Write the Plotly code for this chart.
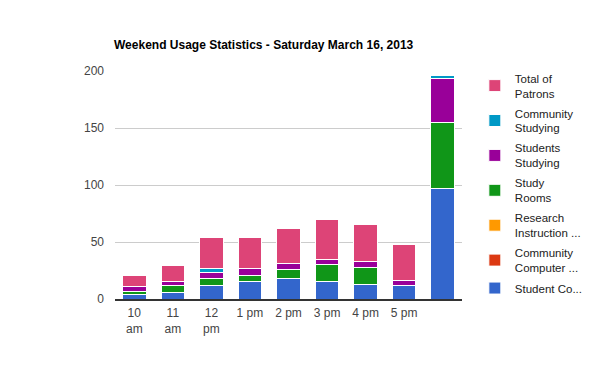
import plotly.graph_objects as go

categories = ["10<br>am", "11<br>am", "12<br>pm", "1 pm", "2 pm", "3 pm", "4 pm", "5 pm", " "]
student_computers = [4, 6, 12, 15, 18, 15, 13, 12, 97]
community_computers = [0, 0, 0, 0, 0, 0, 0, 0, 0]
research_instruction = [0, 0, 0, 0, 0, 0, 0, 0, 0]
study_rooms = [3, 6, 6, 6, 8, 15, 15, 0, 58]
students_studying = [4, 3, 5, 6, 5, 5, 5, 4, 38]
community_studying = [0, 0, 4, 0, 0, 0, 0, 0, 3]
total_patrons = [10, 14, 27, 27, 31, 35, 32, 32, 0]

series = [
    ("Student Co...", student_computers, "#3366CC"),
    ("Community<br>Computer ...", community_computers, "#DC3912"),
    ("Research<br>Instruction ...", research_instruction, "#FF9900"),
    ("Study<br>Rooms", study_rooms, "#109618"),
    ("Students<br>Studying", students_studying, "#990099"),
    ("Community<br>Studying", community_studying, "#0099C6"),
    ("Total of<br>Patrons", total_patrons, "#DD4477"),
]

fig = go.Figure()
for i, (name, vals, color) in enumerate(series):
    fig.add_trace(go.Bar(
        x=categories, y=vals, name=name,
        legendgroup="g%d" % i, legendrank=1000 - i,
        marker=dict(color=color, line=dict(color="white", width=1)),
        hoverinfo="skip",
    ))

fig.update_layout(
    width=600, height=371,
    barmode="stack", bargap=0.39,
    margin=dict(l=115, r=115, t=71, b=72),
    paper_bgcolor="white", plot_bgcolor="white",
    font=dict(family="Liberation Sans, Arial, sans-serif", size=12, color="#444"),
    title=dict(
        text="<b>Weekend Usage Statistics - Saturday March 16, 2013</b>",
        x=114 / 600, xanchor="left", xref="container",
        y=1 - 45 / 371, yanchor="middle", yref="container",
        font=dict(size=12, color="#000"),
    ),
    legend=dict(
        x=1.037, xanchor="left", y=1.03, yanchor="top",
        traceorder="grouped", tracegroupgap=2, maxheight=360,
        font=dict(size=11.5, color="#222"),
        itemclick=False,
    ),
    xaxis=dict(
        showgrid=False, showline=True, linecolor="#333", linewidth=2,
        ticks="", tickfont=dict(size=12, color="#444"),
        ticklabelstandoff=2,
    ),
    yaxis=dict(
        range=[0, 200], tickvals=[0, 50, 100, 150, 200],
        showgrid=True, gridcolor="#ccc", zeroline=False,
        showline=False, ticks="", tickfont=dict(size=12, color="#444"),
        ticklabelstandoff=10,
    ),
)

fig.write_html("out.html")
